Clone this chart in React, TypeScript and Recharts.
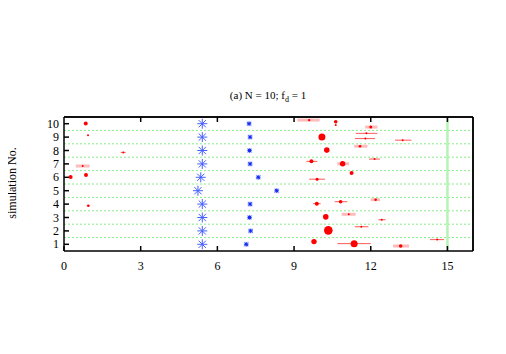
import React from "react";
import {
  ScatterChart,
  Scatter,
  XAxis,
  YAxis,
  ErrorBar,
  ReferenceLine,
} from "recharts";

// ---- data ----
const simulations = [1, 2, 3, 4, 5, 6, 7, 8, 9, 10];
const xTicks = [0, 3, 6, 9, 12, 15];
const xTopTicks = [3, 6, 9, 12, 15];
const gridY = [1.5, 2.5, 3.5, 4.5, 5.5, 6.5, 7.5, 8.5, 9.5];

// blue markers, one per simulation (row 1..10)
const bigStarX = [5.41, 5.41, 5.41, 5.41, 5.24, 5.35, 5.41, 5.41, 5.41, 5.41];
const smallStarX = [7.13, 7.3, 7.26, 7.28, 8.32, 7.6, 7.28, 7.26, 7.28, 7.24];

// red points: [x, y, radius, low, high]
const pinkBarPoints: number[][] = [
  [9.59, 10.27, 1.2, 9.13, 10.0],
  [12.0, 9.75, 1.5, 11.78, 12.26],
  [11.58, 8.32, 1.3, 11.35, 11.87],
  [10.9, 7.01, 2.7, 10.69, 11.15],
  [12.19, 4.33, 1.3, 12.0, 12.36],
  [11.14, 3.24, 1.0, 10.86, 11.41],
  [13.17, 0.87, 1.8, 12.87, 13.5],
  [0.73, 6.84, 1.0, 0.46, 1.0],
];
const redBarPoints: number[][] = [
  [11.83, 9.28, 1.0, 11.41, 12.26],
  [11.79, 8.89, 1.0, 11.38, 12.17],
  [9.68, 7.19, 2.0, 9.48, 9.91],
  [12.15, 7.36, 1.0, 11.93, 12.36],
  [9.9, 5.86, 1.5, 9.59, 10.21],
  [13.25, 8.77, 1.0, 12.95, 13.59],
  [9.89, 4.03, 2.0, 9.74, 10.04],
  [10.82, 4.18, 1.8, 10.59, 11.08],
  [12.43, 2.83, 1.0, 12.3, 12.58],
  [11.63, 2.31, 1.0, 11.38, 11.91],
  [11.35, 1.05, 3.5, 10.69, 12.0],
  [14.6, 1.35, 1.0, 14.32, 14.87],
  [2.32, 7.86, 1.0, 2.22, 2.41],
  [0.95, 3.88, 1.2, 0.89, 1.02],
];
const plainPoints: number[][] = [
  [10.63, 10.15, 1.8],
  [10.63, 9.9, 1.0],
  [10.09, 9.01, 3.5],
  [10.28, 8.03, 2.8],
  [11.25, 6.33, 2.0],
  [10.24, 3.05, 2.8],
  [10.34, 2.04, 4.3],
  [9.78, 1.2, 2.7],
  [0.85, 10.02, 2.0],
  [0.94, 9.13, 1.0],
  [0.26, 6.03, 2.0],
  [0.86, 6.18, 2.0],
];

const toRows = (pts: number[][]) =>
  pts.map((p) => ({
    x: p[0],
    y: p[1],
    r: p[2],
    err: p.length > 3 ? [p[0] - p[3], p[4] - p[0]] : [0, 0],
  }));

const pinkData = toRows(pinkBarPoints);
const redData = toRows(redBarPoints);
const plainData = toRows(plainPoints);
const bigStarData = simulations.map((s, i) => ({ x: bigStarX[i], y: s }));
const smallStarData = simulations.map((s, i) => ({ x: smallStarX[i], y: s }));

const FONT =
  "'Times New Roman', Times, 'Liberation Serif', 'DejaVu Serif', serif";

const RedDot = (props: any) => {
  const { cx, cy, payload } = props;
  if (cx == null || cy == null) return null;
  return <circle cx={cx} cy={cy} r={payload.r} fill="#ff0000" />;
};

const BigStar = (props: any) => {
  const { cx, cy } = props;
  if (cx == null || cy == null) return null;
  const a = 5;
  const d = 3.6;
  return (
    <g stroke="#4660ff" strokeWidth={1}>
      <line x1={cx - a} y1={cy} x2={cx + a} y2={cy} />
      <line x1={cx} y1={cy - a} x2={cx} y2={cy + a} />
      <line x1={cx - d} y1={cy - d} x2={cx + d} y2={cy + d} />
      <line x1={cx - d} y1={cy + d} x2={cx + d} y2={cy - d} />
    </g>
  );
};

const SmallStar = (props: any) => {
  const { cx, cy } = props;
  if (cx == null || cy == null) return null;
  const a = 2;
  return (
    <g>
      <rect x={cx - 2.5} y={cy - 2.5} width={5} height={5} fill="#c4ccff" />
      <g stroke="#1028f0" strokeWidth={1}>
        <line x1={cx - a} y1={cy} x2={cx + a} y2={cy} />
        <line x1={cx} y1={cy - a} x2={cx} y2={cy + a} />
        <line x1={cx - 1.6} y1={cy - 1.6} x2={cx + 1.6} y2={cy + 1.6} />
        <line x1={cx - 1.6} y1={cy + 1.6} x2={cx + 1.6} y2={cy - 1.6} />
      </g>
    </g>
  );
};

const BottomTick = (props: any) => {
  const { x, y, payload } = props;
  return (
    <g>
      <line x1={x} y1={y} x2={x} y2={y - 5} stroke="#000" strokeWidth={1.5} />
      <text
        x={x}
        y={y + 19}
        textAnchor="middle"
        style={{ fontFamily: FONT }}
        fontSize={12}
        fill="#000"
      >
        {payload.value}
      </text>
    </g>
  );
};

const TopTick = (props: any) => {
  const { x, y } = props;
  return <line x1={x} y1={y} x2={x} y2={y + 5} stroke="#000" strokeWidth={1.5} />;
};

const LeftTick = (props: any) => {
  const { x, y, payload } = props;
  return (
    <g>
      <line x1={x} y1={y} x2={x + 5} y2={y} stroke="#000" strokeWidth={1.5} />
      <text
        x={x - 5}
        y={y + 4}
        textAnchor="end"
        style={{ fontFamily: FONT }}
        fontSize={12}
        fill="#000"
      >
        {payload.value}
      </text>
    </g>
  );
};

export default function App() {
  return (
    <div style={{ position: "relative", width: 490, height: 340 }}>
      <div
        style={{
          position: "absolute",
          left: 160,
          width: 200,
          top: 80,
          textAlign: "center",
          fontFamily: FONT,
          fontSize: 11,
          color: "#000",
          lineHeight: "14px",
        }}
      >
        (a) N = 10; f<sub style={{ fontSize: 8, verticalAlign: "-3px", lineHeight: 0 }}>d</sub> = 1
      </div>
      <div
        style={{
          position: "absolute",
          left: 4 - 60,
          top: 175 - 7,
          width: 120,
          textAlign: "center",
          transform: "rotate(-90deg)",
          fontFamily: FONT,
          fontSize: 12,
          lineHeight: "14px",
          color: "#000",
        }}
      >
        simulation No.
      </div>
      <ScatterChart
        width={490}
        height={340}
        margin={{ top: 108, right: 24, bottom: 67, left: 0 }}
      >
        <XAxis
          xAxisId="b"
          type="number"
          dataKey="x"
          domain={[0, 16]}
          ticks={xTicks}
          interval={0}
          tickSize={0}
          tickMargin={0}
          tickLine={false}
          tick={<BottomTick />}
          axisLine={{ stroke: "#000", strokeWidth: 1.5 }}
          height={30}
          allowDataOverflow
        />
        <XAxis
          xAxisId="t"
          orientation="top"
          type="number"
          dataKey="x"
          domain={[0, 16]}
          ticks={xTopTicks}
          interval={0}
          tickSize={0}
          tickMargin={0}
          tickLine={false}
          tick={<TopTick />}
          axisLine={{ stroke: "#000", strokeWidth: 1.5 }}
          height={1}
          allowDataOverflow
        />
        <YAxis
          yAxisId="l"
          type="number"
          dataKey="y"
          domain={[0.5, 10.5]}
          ticks={simulations}
          interval={0}
          tickSize={0}
          tickMargin={0}
          tickLine={false}
          tick={<LeftTick />}
          axisLine={{ stroke: "#000", strokeWidth: 1.5 }}
          width={56}
          allowDataOverflow
        />
        <YAxis
          yAxisId="r"
          orientation="right"
          type="number"
          dataKey="y"
          domain={[0.5, 10.5]}
          tick={false}
          tickLine={false}
          axisLine={{ stroke: "#000", strokeWidth: 1.5 }}
          width={1}
        />
        {gridY.map((g) => (
          <ReferenceLine
            key={g}
            xAxisId="b"
            yAxisId="l"
            y={g}
            stroke="#88ee88"
            strokeWidth={1}
            strokeDasharray="2 2"
          />
        ))}
        <ReferenceLine
          xAxisId="b"
          yAxisId="l"
          x={15}
          stroke="#b4f4b4"
          strokeWidth={2.5}
        />
        <ReferenceLine xAxisId="b" yAxisId="l" y={10.5} stroke="#000" strokeWidth={1.5} />
        <ReferenceLine xAxisId="b" yAxisId="l" x={16} stroke="#000" strokeWidth={1.5} />
        <Scatter
          xAxisId="b"
          yAxisId="l"
          data={bigStarData}
          shape={<BigStar />}
          isAnimationActive={false}
        />
        <Scatter
          xAxisId="b"
          yAxisId="l"
          data={smallStarData}
          shape={<SmallStar />}
          isAnimationActive={false}
        />
        <Scatter
          xAxisId="b"
          yAxisId="l"
          data={pinkData}
          shape={<RedDot />}
          isAnimationActive={false}
        >
          <ErrorBar
            dataKey="err"
            direction="x"
            width={0}
            stroke="#ffbcbc"
            strokeWidth={3}
          />
        </Scatter>
        <Scatter
          xAxisId="b"
          yAxisId="l"
          data={redData}
          shape={<RedDot />}
          isAnimationActive={false}
        >
          <ErrorBar
            dataKey="err"
            direction="x"
            width={0}
            stroke="#ff5a5a"
            strokeWidth={1}
          />
        </Scatter>
        <Scatter
          xAxisId="b"
          yAxisId="l"
          data={plainData}
          shape={<RedDot />}
          isAnimationActive={false}
        />
      </ScatterChart>
    </div>
  );
}
